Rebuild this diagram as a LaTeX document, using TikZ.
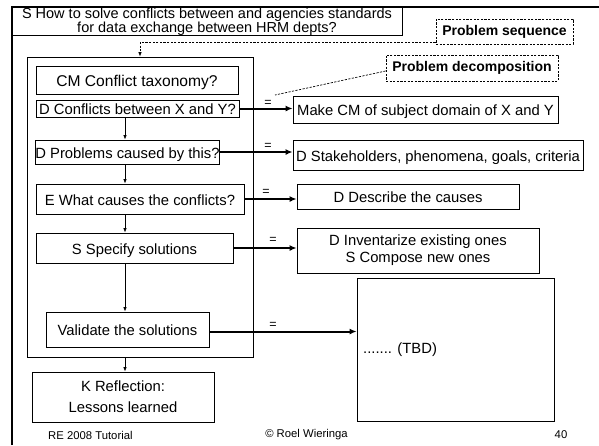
\documentclass[tikz,border=0pt]{standalone}
\usepackage{fontspec}
\setmainfont{Liberation Sans}
\usetikzlibrary{arrows.meta}

\begin{document}
\begin{tikzpicture}[x=1pt,y=-1pt,
  txt/.style={font=\fontsize{14.8}{17}\selectfont},
  box/.style={txt, draw, line width=0.8pt, inner sep=0pt, text height=12.5pt, text depth=0pt},
  mbox/.style={txt, draw, line width=0.8pt, inner sep=0pt, align=center},
  plain/.style={draw, line width=0.8pt, inner sep=0pt},
  hint/.style={draw, line width=0.8pt, dash pattern=on 2.2pt off 1.4pt, inner sep=0pt,
    font=\fontsize{14}{16}\bfseries\selectfont},
  hintline/.style={line width=0.7pt, dash pattern=on 2.2pt off 1.4pt},
  flow/.style={line width=0.8pt, -{Latex[length=4.5pt,width=3.5pt]}},
  maps/.style={line width=2pt, -{Latex[length=7pt,width=6pt]}},
  eq/.style={font=\fontsize{12.5}{14}\selectfont, inner sep=0pt},
  foot/.style={font=\fontsize{11.3}{13}\selectfont, inner sep=0pt},
  frame/.style={line width=2.2pt},
]
\useasboundingbox[fill=white] (0,0) rectangle (599,445);

% slide frame
\draw[frame] (12,445) -- (12,7) -- (599,7);

% overall question
\node[plain, fill=white, minimum width=390pt, minimum height=28pt] (title) at (207,21) {};
\begin{scope}
  \clip (title.south west) rectangle (title.north east);
  \node[font=\fontsize{14.5}{16}\selectfont, inner sep=0pt, anchor=base] (title1) at (207,18)
    {S How to solve conflicts between and agencies standards};
  \node[font=\fontsize{14.5}{16}\selectfont, inner sep=0pt, anchor=base] (title2) at (207,32.5)
    {for data exchange between HRM depts?};
\end{scope}

% annotations
\node[hint, minimum width=137pt, minimum height=25pt] (pseq) at (504.5,31.5) {Problem sequence};
\node[hint, minimum width=172pt, minimum height=26pt] (pdec) at (472,68) {Problem decomposition};

% problem sequence
\node[plain, minimum width=226pt, minimum height=300pt] (seq) at (140,207) {};
\node[box, font=\fontsize{15.6}{17}\selectfont, minimum width=202pt, minimum height=28pt] (cm) at (137,80) {CM Conflict taxonomy?};
\node[box, minimum width=203pt, minimum height=17pt] (dconf) at (137.5,108.5) {D Conflicts between X and Y?};
\node[box, minimum width=183pt, minimum height=24pt] (dprob) at (127.5,152) {D Problems caused by this?};
\node[box, minimum width=208pt, minimum height=30pt] (ewhat) at (140,199) {E What causes the conflicts?};
\node[box, minimum width=197pt, minimum height=30pt] (sspec) at (134.5,248) {S Specify solutions};
\node[box, minimum width=163pt, minimum height=35pt] (valid) at (127.5,329.5) {Validate the solutions};
\node[mbox, font=\fontsize{14.8}{21}\selectfont, minimum width=182pt, minimum height=50pt] (refl) at (123,397)
  {K Reflection:\\Lessons learned};

% decompositions
\node[box, minimum width=265pt, minimum height=27pt] (mkcm) at (425.5,109.5) {Make CM of subject domain of X and Y};
\node[box, minimum width=290pt, minimum height=30pt] (stake) at (438,155) {D Stakeholders, phenomena, goals, criteria};
\node[box, minimum width=222pt, minimum height=25pt] (desc) at (408,196.5) {D Describe the causes};
\node[mbox, minimum width=242pt, minimum height=45pt] (inv) at (418,250.5) {D Inventarize existing ones\\S Compose new ones};
\node[plain, minimum width=197pt, minimum height=143pt] (tbd) at (455.5,349.5) {};
\node[txt, inner sep=0pt, anchor=west] (tbdlabel) at (363,350) {....... (TBD)};

% sequence arrows
\coordinate (ax) at (125,0);
\draw[flow] (dconf.south -| ax) -- (dprob.north -| ax);
\draw[flow] (dprob.south -| ax) -- (ewhat.north -| ax);
\draw[flow] (ewhat.south -| ax) -- (sspec.north -| ax);
\draw[flow] (sspec.south -| ax) -- (valid.north -| ax);
\draw[flow] (seq.south -| ax) -- (refl.north -| ax);

% decomposition arrows
\coordinate (vout) at ([yshift=-2pt]valid.east);
\draw[maps] (dconf.east) -- (mkcm.west |- dconf.east);
\draw[maps] (dprob.east) -- (stake.west |- dprob.east);
\draw[maps] (ewhat.east) -- (desc.west |- ewhat.east);
\draw[maps] (sspec.east) -- (inv.west |- sspec.east);
\draw[maps] (vout) -- (tbd.west |- vout);
\node[eq] (eq1) at (268,103) {=};
\node[eq] (eq2) at (268,146) {=};
\node[eq] (eq3) at (266,192) {=};
\node[eq] (eq4) at (273,240) {=};
\node[eq] (eq5) at (273,325) {=};

% annotation pointers
\coordinate (dx) at (140,0);
\draw[hintline, -{Latex[length=4.5pt,width=3.5pt]}] ([yshift=2pt]pseq.south west) -| (seq.north -| dx);
\coordinate (pdend) at (275,95);
\draw[hintline] ([yshift=-3pt]pdec.west) -- (pdend);

% footer
\node[foot, anchor=west] (ftl) at (48,435) {RE 2008 Tutorial};
\node[foot] (ftc) at (306.5,435) {© Roel Wieringa};
\node[foot] (ftr) at (561,435) {40};
\end{tikzpicture}
\end{document}
